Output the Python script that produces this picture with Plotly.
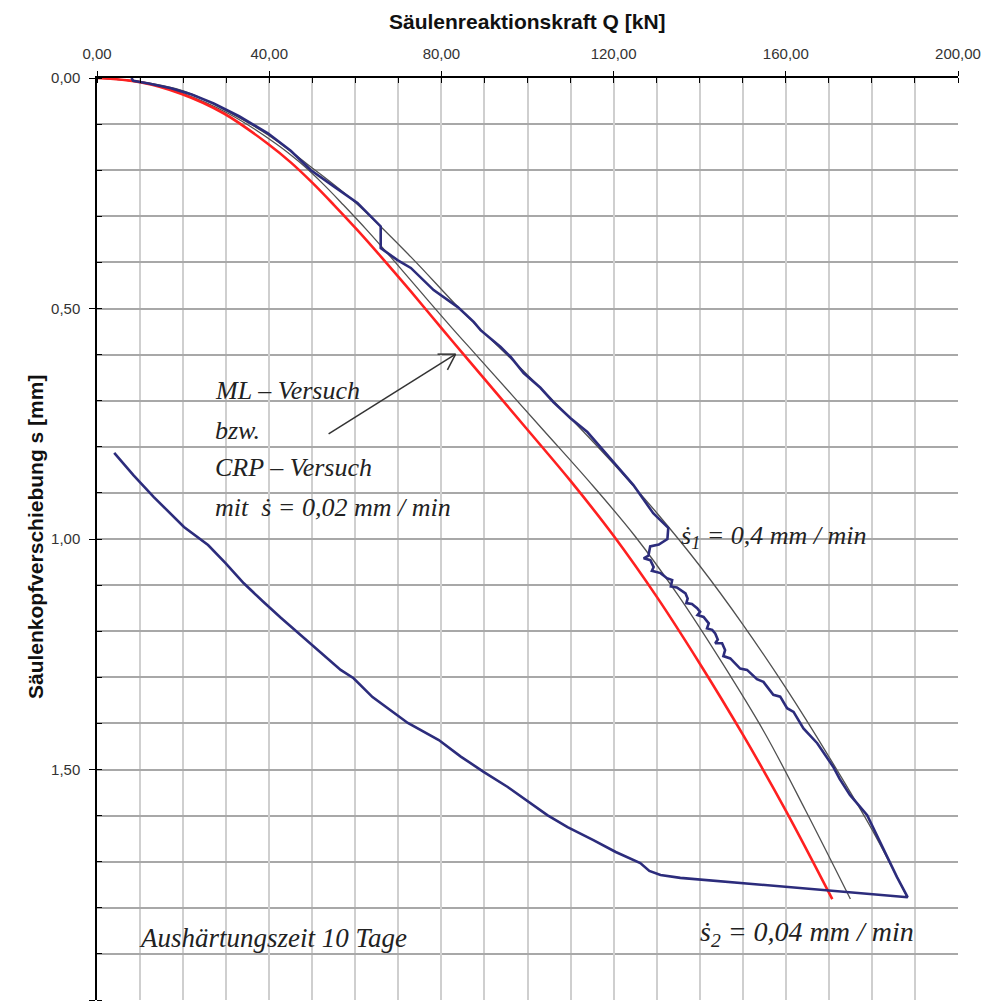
import plotly.graph_objects as go

# ---------------- data ----------------
# Red: ML-Versuch / CRP-Versuch (s' = 0.02 mm/min)
q_red = [0, 10, 19.5, 29.5, 39.6, 45, 50, 55, 60.5, 66, 72.9, 80.5, 85.2, 100, 110, 120, 130, 140, 150, 160, 170.8]
s_red = [0, 0.009, 0.034, 0.077, 0.142, 0.183, 0.227, 0.275, 0.33, 0.388, 0.463, 0.548, 0.6, 0.763, 0.874, 0.993, 1.125, 1.27, 1.424, 1.589, 1.781]

# Thin grey curve 1 (inner)
q_g1 = [0, 10, 20, 30.5, 41.5, 47.1, 52.2, 57.2, 62.7, 68.2, 75.1, 83, 88, 103.6, 114.2, 124.9, 135.2, 145.3, 155.3, 164.6, 175]
s_g1 = [0, 0.009, 0.034, 0.077, 0.142, 0.183, 0.227, 0.275, 0.33, 0.388, 0.463, 0.548, 0.6, 0.763, 0.874, 0.993, 1.125, 1.27, 1.424, 1.589, 1.781]

# Thin grey curve 2 (outer)
q_g2 = [0, 10, 20, 30.4, 40, 49.7, 60, 72.9, 84.5, 100, 110, 120, 130, 140, 150, 160, 170, 180, 188.2]
s_g2 = [0, 0.008, 0.028, 0.073, 0.125, 0.193, 0.27, 0.388, 0.503, 0.644, 0.738, 0.837, 0.943, 1.058, 1.185, 1.323, 1.472, 1.63, 1.777]

# Blue: measured curve (loading with s1' = 0.4, s2' = 0.04 mm/min, then unloading)
q_blue = [8.0, 8.4, 12, 17.2, 22, 27.1, 33, 39.7, 45, 49.7, 55, 60.5, 65.9, 65.9, 69.8, 72.9,
          78.2, 83.8, 87.5, 89.1, 93.7, 96.1, 99.1, 103, 106, 110, 113.9, 117.6, 121.6, 124.6,
          129.2, 132.7, 132.5, 130.5, 128.5, 128.1, 126.99,
          128.54, 129.3, 128.9, 130.9, 132.4, 133.6, 133.3, 134.7, 135.5, 136.7, 137.2, 136.9,
          138.2, 139.4, 140.1, 139.5, 140.9, 142.1, 141.7, 142.9, 143.6, 144.2, 143.6, 145.2,
          145.9, 145.5, 147.1, 149.4, 151.0, 153.3, 154.8, 157.1, 158.7, 160.3, 161.8, 164.1,
          167.3, 171, 172.5, 174.9, 178.9, 181, 183.5, 185.8, 188.3,
          168, 151.7, 135.5, 130.9, 128.3, 126.2, 120.5, 115.3, 109.3, 104.6, 95.4, 89.8, 84.5, 79.4, 72.2, 64,
          59.6, 56.6, 52, 47.5, 42.7, 38.5, 34.1, 29.8, 25.8, 20.2, 16.5, 13.2, 8.5, 4.0]
s_blue = [0.0, 0.006, 0.012, 0.022, 0.036, 0.055, 0.083, 0.12, 0.158, 0.2, 0.235, 0.271, 0.322, 0.369, 0.395, 0.412,
          0.46, 0.497, 0.529, 0.547, 0.583, 0.605, 0.64, 0.672, 0.703, 0.738, 0.768, 0.807, 0.85, 0.883,
          0.944, 0.976, 1.0, 1.012, 1.016, 1.036, 1.042,
          1.046, 1.061, 1.069, 1.074, 1.085, 1.089, 1.103, 1.105, 1.111, 1.118, 1.129, 1.139,
          1.141, 1.150, 1.158, 1.165, 1.169, 1.183, 1.194, 1.197, 1.205, 1.218, 1.226, 1.226,
          1.241, 1.254, 1.259, 1.281, 1.284, 1.304, 1.310, 1.338, 1.342, 1.367, 1.375, 1.411,
          1.443, 1.494, 1.52, 1.555, 1.599, 1.64, 1.69, 1.733, 1.777,
          1.761, 1.747, 1.735, 1.729, 1.72, 1.703, 1.679, 1.653, 1.625, 1.599, 1.538, 1.505, 1.472, 1.436, 1.399, 1.343,
          1.302, 1.284, 1.247, 1.21, 1.171, 1.135, 1.096, 1.052, 1.013, 0.974, 0.94, 0.909, 0.862, 0.813]

# Axis ticks
x_tickvals = [0, 40, 80, 120, 160, 200]
x_ticktext = ["0,00", "40,00", "80,00", "120,00", "160,00", "200,00"]
y_tickvals = [0, 0.5, 1.0, 1.5, 2.0]
y_ticktext = ["0,00", "0,50", "1,00", "1,50", "2,00"]

# Texts
x_title = "Säulenreaktionskraft Q [kN]"
y_title = "Säulenkopfverschiebung s [mm]"
label_lines = ["ML – Versuch", "bzw.", "CRP – Versuch", "mit\u00a0\u00a0ṡ = 0,02 mm / min"]
label_s1 = "ṡ<sub>1</sub> = 0,4 mm / min"
label_s2 = "ṡ<sub>2</sub> = 0,04 mm / min"
label_time = "Aushärtungszeit 10 Tage"

# Arrow (tail -> head) in data units
arrow_tail = (53.8, 0.772)
arrow_head = (83.3, 0.599)
arrow_arm1 = (79.1, 0.599)
arrow_arm2 = (81.4, 0.633)

# ---------------- figure ----------------
fig = go.Figure()
fig.add_trace(go.Scatter(x=q_g1, y=s_g1, mode="lines", line=dict(color="#505050", width=1.3, shape="spline", smoothing=1.0), hoverinfo="skip"))
fig.add_trace(go.Scatter(x=q_g2, y=s_g2, mode="lines", line=dict(color="#505050", width=1.3, shape="spline", smoothing=1.0), hoverinfo="skip"))
fig.add_trace(go.Scatter(x=q_red, y=s_red, mode="lines", line=dict(color="#ff2020", width=2.6, shape="spline", smoothing=1.0), hoverinfo="skip"))
fig.add_trace(go.Scatter(x=q_blue, y=s_blue, mode="lines", line=dict(color="#2c2c7c", width=2.6), hoverinfo="skip"))

serif = dict(family="Liberation Serif, Times New Roman, serif", size=26, color="#222222", style="italic")

line_y = [0.677, 0.764, 0.844, 0.931]
for txt, yy in zip(label_lines, line_y):
    fig.add_annotation(x=27.0, y=yy, text=txt, showarrow=False, xanchor="left", yanchor="middle", font=serif)
fig.add_annotation(x=135.3, y=0.996, text=label_s1, showarrow=False, xanchor="left", yanchor="middle", font=serif)
fig.add_annotation(x=139.5, y=1.855, text=label_s2, showarrow=False, xanchor="left", yanchor="middle", font=dict(serif, size=28))
fig.add_annotation(x=9.3, y=1.866, text=label_time, showarrow=False, xanchor="left", yanchor="middle", font=dict(serif, size=27))

arrow_line = dict(color="#333333", width=1.5)
fig.add_shape(type="line", x0=arrow_tail[0], y0=arrow_tail[1], x1=arrow_head[0], y1=arrow_head[1], line=arrow_line)
fig.add_shape(type="line", x0=arrow_arm1[0], y0=arrow_arm1[1], x1=arrow_head[0], y1=arrow_head[1], line=arrow_line)
fig.add_shape(type="line", x0=arrow_arm2[0], y0=arrow_arm2[1], x1=arrow_head[0], y1=arrow_head[1], line=arrow_line)

tickfont = dict(family="Liberation Sans, Arial, sans-serif", size=15, color="#333333")
titlefont = dict(family="Liberation Sans, Arial, sans-serif", size=21, color="#111111", weight="bold")

fig.update_xaxes(
    side="top", range=[0, 200], tickvals=x_tickvals, ticktext=x_ticktext,
    ticks="outside", ticklen=5, tickcolor="black", tickwidth=1, ticklabelstandoff=6,
    showline=True, linecolor="black", linewidth=1.5, mirror=False,
    showgrid=True, gridcolor="#cfcfcf", gridwidth=1.5, zeroline=False,
    minor=dict(dtick=10, tick0=0, ticks="inside", ticklen=5, tickcolor="black", showgrid=True, gridcolor="#cfcfcf", gridwidth=1.5),
    tickfont=tickfont, automargin=False,
)
fig.update_yaxes(
    range=[2.0, 0], tickvals=y_tickvals, ticktext=y_ticktext,
    ticks="outside", ticklen=6, tickcolor="black", tickwidth=1, ticklabelstandoff=6,
    showline=True, linecolor="black", linewidth=1.5, mirror=False,
    showgrid=True, gridcolor="#a8a8a8", gridwidth=1.5, zeroline=False,
    minor=dict(dtick=0.1, tick0=0, ticks="inside", ticklen=5, tickcolor="black", showgrid=True, gridcolor="#a8a8a8", gridwidth=1.5),
    tickfont=tickfont, automargin=False,
)

# Axis titles (placed as paper annotations, relative to the plot area)
fig.add_annotation(xref="paper", yref="paper", x=0.5, y=1 + (78 - 22) / 922, text=x_title,
                   showarrow=False, xanchor="center", yanchor="middle", font=titlefont)
fig.add_annotation(xref="paper", yref="paper", x=(35 - 97) / 861, y=1 - (537 - 78) / 922, text=y_title,
                   showarrow=False, xanchor="center", yanchor="middle", textangle=-90, font=titlefont)

fig.update_layout(
    width=983, height=1005,
    margin=dict(l=97, r=25, t=78, b=5, autoexpand=False),
    plot_bgcolor="white", paper_bgcolor="white",
    showlegend=False,
)

# remove the default 8px body margin so the figure fills the window exactly
fig.write_html("out.html", config={"displayModeBar": False},
               post_script="document.body.style.margin='0';document.body.style.overflow='hidden';")
